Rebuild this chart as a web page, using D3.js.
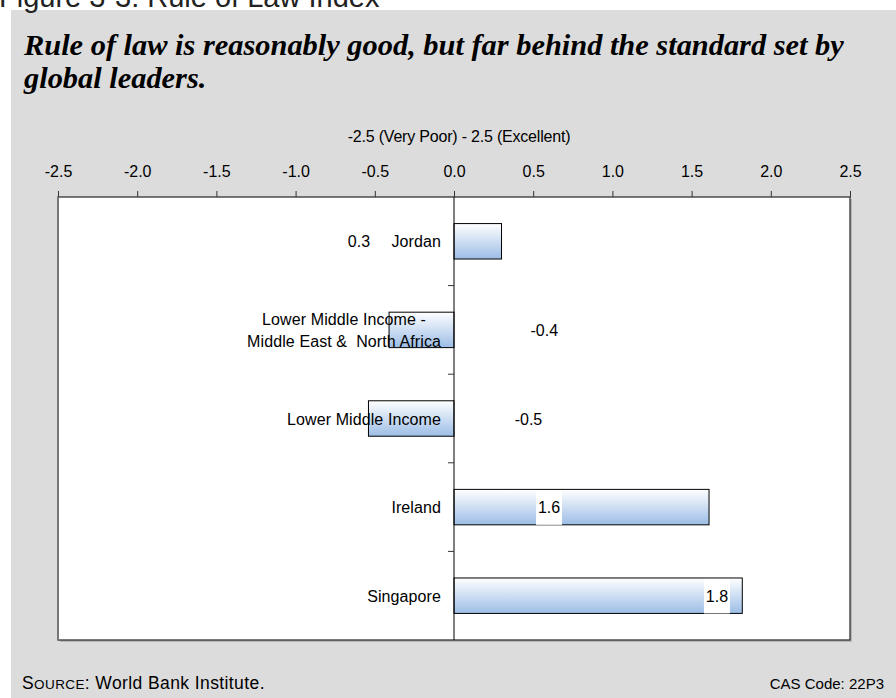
<!DOCTYPE html>
<html>
<head>
<meta charset="utf-8">
<script src="https://cdn.jsdelivr.net/npm/d3@7"></script>
<style>
  html, body { margin: 0; padding: 0; background: #fff; }
  svg { display: block; }
  .cat text { white-space: pre; }
</style>
</head>
<body>
<script>
// Rule of Law index, -2.5 (very poor) to 2.5 (excellent)
const categories = [
  ["Jordan"],
  ["Lower Middle Income -", "Middle East &  North Africa"],
  ["Lower Middle Income"],
  ["Ireland"],
  ["Singapore"]
];
const values = [0.3, -0.41, -0.54, 1.61, 1.82];
const tickValues = [-2.5, -2.0, -1.5, -1.0, -0.5, 0.0, 0.5, 1.0, 1.5, 2.0, 2.5];
// where each value label sits, in index units
const labelAnchor = [-0.6, 0.57, 0.47, 0.6, 1.66];
const boxedLabel = [false, false, false, true, true];

const W = 896, H = 698;
const svg = d3.select("body").append("svg").attr("width", W).attr("height", H);

const font = "Arial, 'Liberation Sans', sans-serif";
// one decimal, plain hyphen for negatives
const fmt = v => d3.format(".1f")(v).replace("\u2212", "-");

const defs = svg.append("defs");
const grad = defs.append("linearGradient").attr("id", "barFill")
  .attr("x1", 0).attr("y1", 0).attr("x2", 0).attr("y2", 1);
grad.append("stop").attr("offset", "0%").attr("stop-color", "#ffffff");
grad.append("stop").attr("offset", "100%").attr("stop-color", "#9cbde6");

// panel background
svg.append("rect").attr("x", 11).attr("y", 10).attr("width", W - 11).attr("height", H - 10)
  .attr("fill", "#dcdcdc");

// figure caption (runs off the top edge)
svg.append("text").attr("x", -1).attr("y", 7)
  .attr("font-family", font).attr("font-size", 29)
  .attr("fill", "#222").text("Figure 3-3: Rule of Law Index");

// headline
const head = svg.append("text").attr("font-family", "'Liberation Serif', 'Times New Roman', serif")
  .attr("font-size", 30.4).attr("font-weight", "bold").attr("font-style", "italic").attr("fill", "#000");
head.append("tspan").attr("x", 24).attr("y", 55)
  .text("Rule of law is reasonably good, but far behind the standard set by");
head.append("tspan").attr("x", 24).attr("y", 88).text("global leaders.");

const plotL = 58, plotR = 850, plotT = 197, plotB = 640;
const x = d3.scaleLinear().domain([-2.5, 2.5]).range([plotL, plotR]);
const y = d3.scaleBand().domain(d3.range(categories.length)).range([plotT, plotB]).paddingInner(0).paddingOuter(0);

// plot frame with shadow
svg.append("rect").attr("x", plotL + 2).attr("y", plotT + 2).attr("width", plotR - plotL).attr("height", plotB - plotT)
  .attr("fill", "#b8b8b8");
svg.append("rect").attr("x", plotL).attr("y", plotT).attr("width", plotR - plotL).attr("height", plotB - plotT)
  .attr("fill", "#fff").attr("stroke", "#333").attr("stroke-width", 1.3);
svg.append("line").attr("x1", plotL).attr("x2", plotL).attr("y1", plotT).attr("y2", plotB)
  .attr("stroke", "#777").attr("stroke-width", 2);

// top value axis
const xAxis = svg.append("g").attr("transform", `translate(0,${plotT})`)
  .call(d3.axisTop(x).tickValues(tickValues).tickFormat(fmt).tickSize(6).tickPadding(14));
xAxis.select(".domain").remove();
xAxis.selectAll("line").attr("stroke", "#333");
xAxis.selectAll("text").attr("font-family", font).attr("font-size", 16).attr("fill", "#000");

svg.append("text").attr("x", x(0) + 5).attr("y", 142).attr("text-anchor", "middle")
  .attr("font-family", font).attr("font-size", 16).attr("letter-spacing", -0.2).attr("fill", "#000")
  .text("-2.5 (Very Poor) - 2.5 (Excellent)");

// bars
const barH = y.bandwidth() * 0.4;
svg.append("g").selectAll("rect").data(values).join("rect")
  .attr("x", d => x(Math.min(0, d)))
  .attr("width", d => Math.abs(x(d) - x(0)))
  .attr("y", (d, i) => y(i) + (y.bandwidth() - barH) / 2)
  .attr("height", barH)
  .attr("fill", "url(#barFill)").attr("stroke", "#000").attr("stroke-width", 1);

// category axis at zero
svg.append("line").attr("x1", x(0)).attr("x2", x(0)).attr("y1", plotT).attr("y2", plotB)
  .attr("stroke", "#000").attr("stroke-width", 1);
svg.append("g").selectAll("line").data(d3.range(1, categories.length)).join("line")
  .attr("x1", x(0) - 6).attr("x2", x(0)).attr("y1", i => y(i)).attr("y2", i => y(i))
  .attr("stroke", "#333");

// category labels: block right-aligned to the axis, lines centred within it
const catRight = x(0) - 13;
const catG = svg.append("g").attr("class", "cat").attr("font-family", font).attr("font-size", 16)
  .attr("letter-spacing", 0.1).attr("fill", "#000");
categories.forEach((lines, i) => {
  const cy = y(i) + y.bandwidth() / 2;
  const t = catG.append("text").attr("text-anchor", "middle");
  const spans = lines.map((ln, k) => t.append("tspan")
    .attr("y", cy + 6 + (k - (lines.length - 1) / 2) * 22).text(ln));
  const widest = d3.max(spans, s => s.node().getComputedTextLength());
  spans.forEach(s => s.attr("x", catRight - widest / 2));
});

// value labels
const valG = svg.append("g").attr("font-family", font).attr("font-size", 16).attr("fill", "#000");
values.forEach((v, i) => {
  const cx = x(labelAnchor[i]);
  const cy = y(i) + y.bandwidth() / 2;
  if (boxedLabel[i]) {
    valG.append("rect").attr("x", cx - 13).attr("y", cy - barH / 2 + 1).attr("width", 26).attr("height", barH - 1)
      .attr("fill", "#fff");
  }
  valG.append("text").attr("x", cx).attr("y", cy + 6).attr("text-anchor", "middle").text(fmt(v));
});

// footer
const src = svg.append("text").attr("x", 22).attr("y", 689)
  .attr("font-family", font).attr("font-size", 17.5).attr("letter-spacing", 0.4).attr("fill", "#000");
src.append("tspan").text("S");
src.append("tspan").attr("font-size", 13.5).text("OURCE");
src.append("tspan").text(": World Bank Institute.");
svg.append("text").attr("x", 884).attr("y", 689).attr("text-anchor", "end")
  .attr("font-family", font).attr("font-size", 15).attr("fill", "#000").text("CAS Code: 22P3");
</script>
</body>
</html>
